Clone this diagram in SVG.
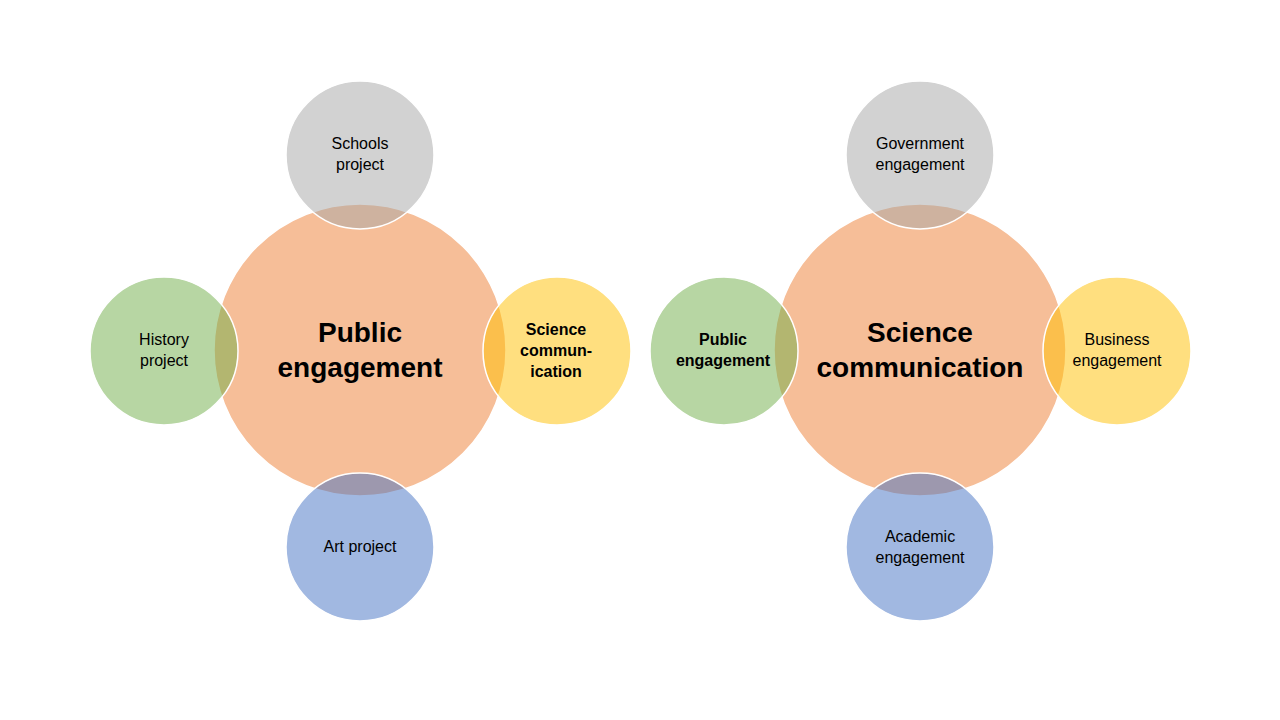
<svg xmlns="http://www.w3.org/2000/svg" width="1280" height="720" viewBox="0 0 1280 720">
<style>
circle{stroke:#fff;stroke-width:1.5}
.c{fill:#ED7D31;fill-opacity:.5}
.g{fill:#A5A5A5;fill-opacity:.5}
.gr{fill:#70AD47;fill-opacity:.5}
.y{fill:#FFC000;fill-opacity:.5}
.b{fill:#4472C4;fill-opacity:.5}
text{font-family:"Liberation Sans",Arial,sans-serif;text-anchor:middle;fill:#000}
.s{font-size:16px}
.sb{font-size:16px;font-weight:bold}
.big{font-size:28px;font-weight:bold}
</style>
<rect width="1280" height="720" fill="#fff"/>
<g id="left">
<g id="pe-center"><circle class="c" cx="360" cy="350" r="146"/></g>
<g id="schools"><circle class="g" cx="360" cy="155" r="74"/></g>
<g id="history"><circle class="gr" cx="164" cy="351" r="74"/></g>
<g id="scicom"><circle class="y" cx="557" cy="351" r="74"/></g>
<g id="art"><circle class="b" cx="360" cy="547" r="74"/></g>
<text class="big" x="360" y="342">Public</text>
<text class="big" x="360" y="377">engagement</text>
<text class="s" x="360" y="149">Schools</text>
<text class="s" x="360" y="170">project</text>
<text class="s" x="164" y="345">History</text>
<text class="s" x="164" y="366">project</text>
<text class="sb" x="556" y="335">Science</text>
<text class="sb" x="556" y="356">commun-</text>
<text class="sb" x="556" y="377">ication</text>
<text class="s" x="360" y="552">Art project</text>
</g>
<g id="right">
<g id="sc-center"><circle class="c" cx="920" cy="350" r="146"/></g>
<g id="gov"><circle class="g" cx="920" cy="155" r="74"/></g>
<g id="pub"><circle class="gr" cx="724" cy="351" r="74"/></g>
<g id="bus"><circle class="y" cx="1117" cy="351" r="74"/></g>
<g id="acad"><circle class="b" cx="920" cy="547" r="74"/></g>
<text class="big" x="920" y="342">Science</text>
<text class="big" x="920" y="377">communication</text>
<text class="s" x="920" y="149">Government</text>
<text class="s" x="920" y="170">engagement</text>
<text class="sb" x="723" y="345">Public</text>
<text class="sb" x="723" y="366">engagement</text>
<text class="s" x="1117" y="345">Business</text>
<text class="s" x="1117" y="366">engagement</text>
<text class="s" x="920" y="542">Academic</text>
<text class="s" x="920" y="563">engagement</text>
</g>
<g id="connectors"/>
</svg>
